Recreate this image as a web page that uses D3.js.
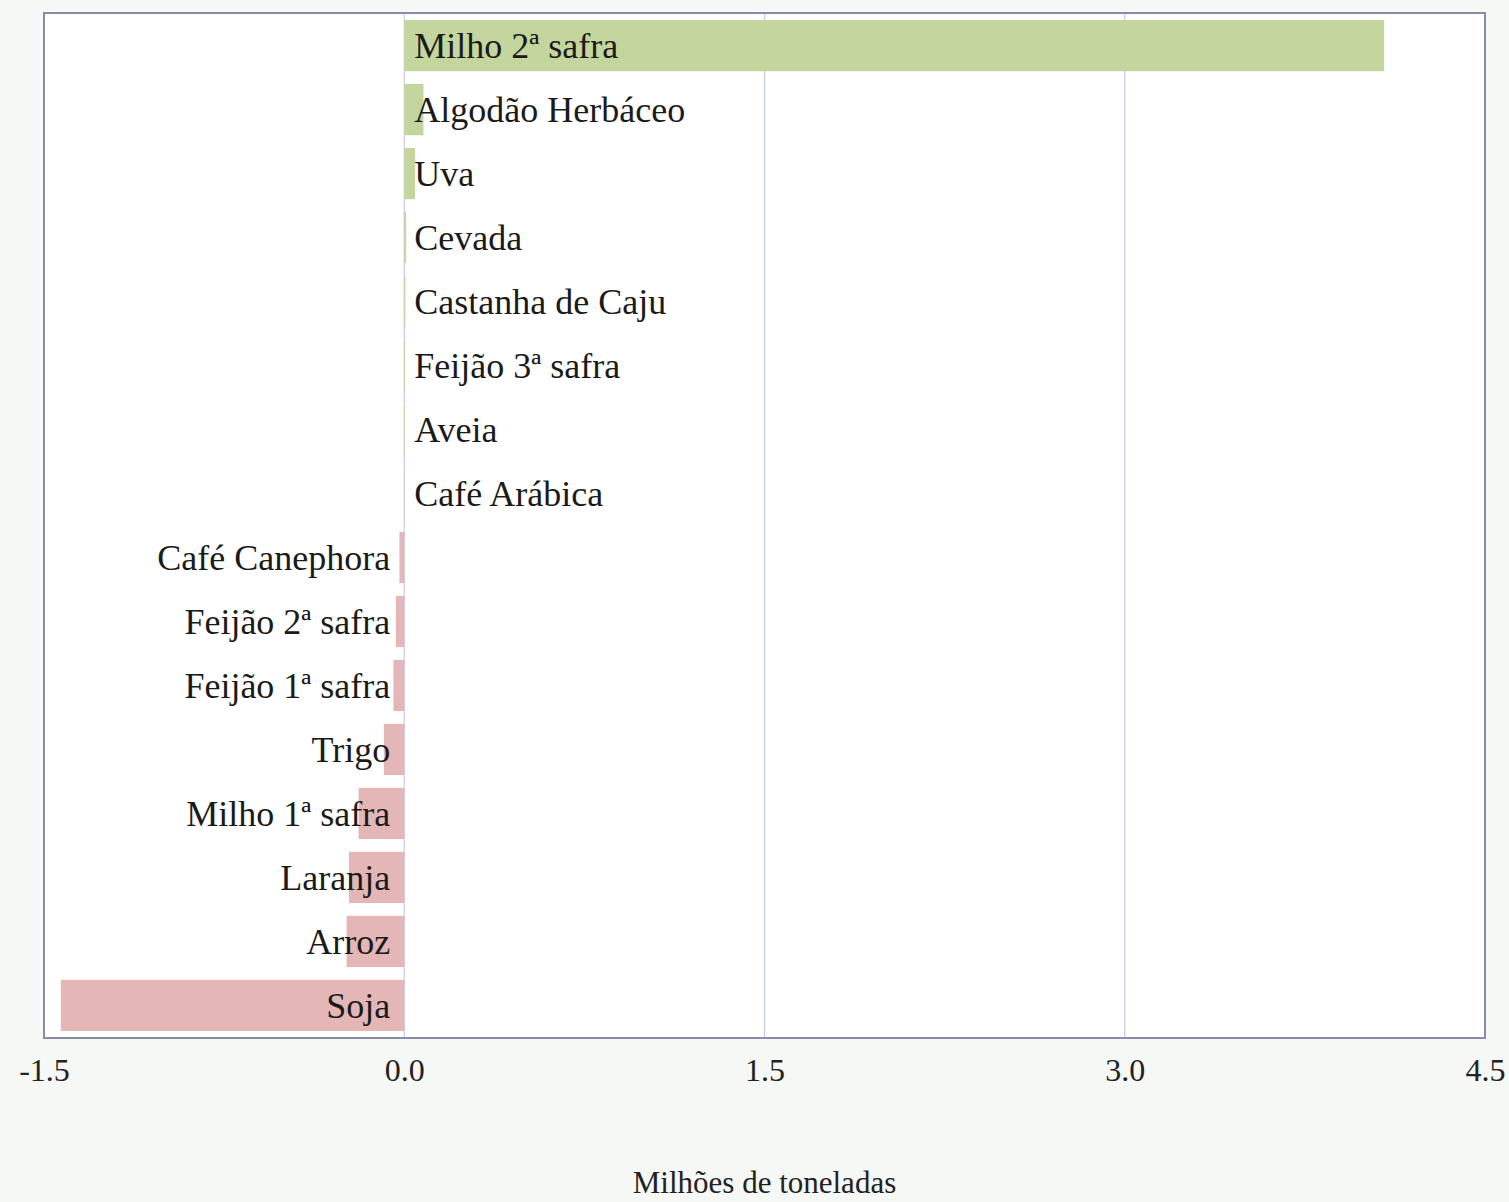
<!DOCTYPE html>
<html>
<head>
<meta charset="utf-8">
<script src="https://cdn.jsdelivr.net/npm/d3@7"></script>
<style>
  html, body { margin: 0; padding: 0; background: #f6f8f5; }
</style>
</head>
<body>
<div id="chart"></div>
<script>
const crops = ['Milho 2ª safra', 'Algodão Herbáceo', 'Uva', 'Cevada', 'Castanha de Caju',
  'Feijão 3ª safra', 'Aveia', 'Café Arábica', 'Café Canephora', 'Feijão 2ª safra',
  'Feijão 1ª safra', 'Trigo', 'Milho 1ª safra', 'Laranja', 'Arroz', 'Soja'];
const change = [4.08, 0.08, 0.045, 0.008, 0.005, 0.004, 0.003, 0.002, -0.02, -0.035,
  -0.045, -0.085, -0.19, -0.23, -0.24, -1.43];
const xTicks = [-1.5, 0, 1.5, 3.0, 4.5];
const xTitle = 'Milhões de toneladas';

const width = 1509, height = 1202;
const margin = {top: 13, right: 24, bottom: 164, left: 44};
const font = 'Liberation Serif, serif';

const svg = d3.select('#chart').append('svg')
    .attr('width', width)
    .attr('height', height);

const x = d3.scaleLinear()
    .domain([-1.5, 4.5])
    .range([margin.left, width - margin.right]);

const y = d3.scaleBand()
    .domain(crops)
    .range([margin.top, height - margin.bottom])
    .paddingInner(0.2)
    .paddingOuter(0.11);

// plot background
svg.append('rect')
    .attr('x', margin.left)
    .attr('y', margin.top)
    .attr('width', x(4.5) - x(-1.5))
    .attr('height', height - margin.bottom - margin.top)
    .style('fill', 'white');

// grid
svg.append('g')
    .selectAll('line')
    .data(xTicks.slice(1, -1))
    .enter()
    .append('line')
    .attr('x1', (d) => x(d))
    .attr('x2', (d) => x(d))
    .attr('y1', margin.top)
    .attr('y2', height - margin.bottom)
    .style('stroke', '#c6c6f5')
    .style('stroke-width', 1.2);

const data = crops.map((c, i) => ({name: c, value: change[i]}));

svg.append('g')
    .selectAll('rect')
    .data(data)
    .enter()
    .append('rect')
    .attr('x', (d) => x(Math.min(0, d.value)))
    .attr('y', (d) => y(d.name))
    .attr('width', (d) => Math.abs(x(d.value) - x(0)))
    .attr('height', y.bandwidth())
    .style('fill', (d) => d.value >= 0 ? '#c4d69e' : '#e4b6b6');

svg.append('g')
    .selectAll('text')
    .data(data)
    .enter()
    .append('text')
    .attr('x', (d) => d.value >= 0 ? x(0) + 10 : x(0) - 14)
    .attr('y', (d) => y(d.name) + y.bandwidth() / 2)
    .attr('dy', '0.35em')
    .attr('text-anchor', (d) => d.value >= 0 ? 'start' : 'end')
    .style('font-family', font)
    .style('font-size', '36px')
    .style('fill', '#1a1a1a')
    .text((d) => d.name);

// frame
svg.append('rect')
    .attr('x', margin.left)
    .attr('y', margin.top)
    .attr('width', x(4.5) - x(-1.5))
    .attr('height', height - margin.bottom - margin.top)
    .style('fill', 'none')
    .style('stroke', '#8a8aaa')
    .style('stroke-width', 2);

const fmt = d3.format('.1f');
const xAxis = d3.axisBottom(x)
    .tickValues(xTicks)
    .tickFormat((d) => fmt(d).replace('−', '-'))
    .tickSize(0)
    .tickPadding(20);

const gx = svg.append('g')
    .attr('transform', `translate(0,${height - margin.bottom})`)
    .call(xAxis);
gx.select('.domain').remove();
gx.selectAll('text')
    .style('font-family', font)
    .style('font-size', '32px')
    .style('fill', '#222');

svg.append('text')
    .attr('x', (x(-1.5) + x(4.5)) / 2)
    .attr('y', 1193)
    .attr('text-anchor', 'middle')
    .style('font-family', font)
    .style('font-size', '31px')
    .style('fill', '#222')
    .text(xTitle);
</script>
</body>
</html>
